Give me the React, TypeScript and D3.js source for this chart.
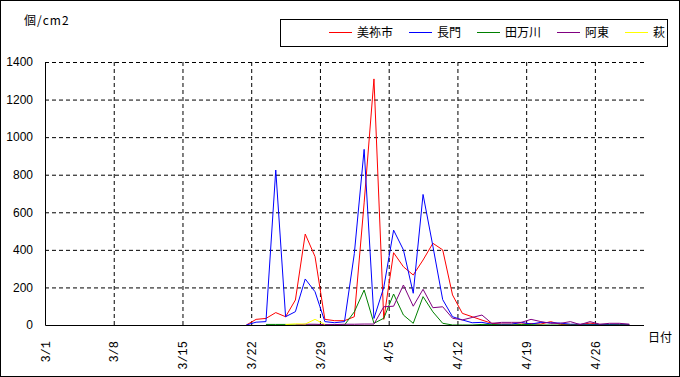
import React, { useEffect, useRef } from "react";
import * as d3 from "d3";

// categories: every day from 3/1 to 4/30
const dates = d3
  .timeDay.range(new Date(2024, 2, 1), new Date(2024, 4, 1))
  .map(d3.timeFormat("%-m/%-d"));
const tickEvery = 7;
const yTicks = [0, 200, 400, 600, 800, 1000, 1200, 1400];

// observations start on 3/21 (index 20)
const firstIndex = 20;
const names = ["美祢市", "長門", "田万川", "阿東", "萩"];
const colors = ["#ff0000", "#0000ff", "#008000", "#800080", "#ffff00"];

const mine = [
  0, 30, 35, 66, 44, 133, 484, 364, 30, 23,
  23, 44, 650, 1310, 30, 385, 310, 266, 346, 435,
  400, 160, 62, 44, 26, 9, 5, 5, 5, 8,
  5, 18, 3, 3, 3, 10, 3, 3, 3, 3,
];
const nagato = [
  0, 15, 18, 825, 44, 71, 245, 177, 18, 12,
  18, 380, 935, 35, 200, 505, 400, 169, 695, 420,
  135, 44, 27, 12, 14, 4, 4, 4, 14, 5,
  14, 12, 10, 4, 4, 3, 3, 3, 4, 3,
];
const tamagawa = [
  null, null, 3, 3, 3, 0, 0, 0, 0, 0,
  0, 70, 186, 9, 36, 165, 53, 9, 151, 70,
  9, 0, 0, 0, 3, 3, 0, 0, 3, 2,
  0, 0, 0, 0, 0, 0, 0, 0, 0, 0,
];
const ato = [
  null, null, null, null, null, 0, 4, 4, 2, 2,
  4, 4, 5, 5, 97, 100, 213, 100, 190, 92,
  97, 36, 27, 40, 53, 9, 14, 14, 14, 30,
  18, 9, 9, 18, 2, 18, 4, 9, 9, 4,
];
const hagi = [
  null, null, null, null, 3, 6, 5, 30, 3, null,
  null, null, null, null, null, null, null, null, null, null,
  null, null, null, null, null, null, null, null, null, null,
  null, null, null, null, null, null, null, null, null, null,
];
const seriesValues = [mine, nagato, tamagawa, ato, hagi];

export default function App() {
  const ref = useRef<SVGSVGElement>(null);

  useEffect(() => {
    document.body.style.margin = "0";
    const svg = d3.select(ref.current);
    svg.selectAll("*").remove();

    const width = 680;
    const height = 377;
    const left = 45;
    const right = 644;
    const top = 62;
    const bottom = 325;
    const sans = "'Liberation Sans', Arial, sans-serif";
    const cjk = "'Noto Sans CJK JP', sans-serif";

    svg
      .append("rect")
      .attr("x", 0.5)
      .attr("y", 0.5)
      .attr("width", width - 1)
      .attr("height", height - 1)
      .attr("fill", "#fff")
      .attr("stroke", "#000");

    const x = d3
      .scaleBand<number>()
      .domain(dates.map((_, i) => i))
      .range([left, right])
      .padding(0);
    const xEdge = d3.scaleLinear().domain([0, dates.length]).range([left, right]);
    const y = d3.scaleLinear().domain([0, 1400]).range([bottom, top]);

    // y axis + horizontal grid
    const yAxis = svg
      .append("g")
      .attr("transform", `translate(${left},0)`)
      .call(
        d3
          .axisLeft(y)
          .tickValues(yTicks)
          .tickFormat(d3.format("d"))
          .tickSize(-(right - left))
          .tickPadding(12)
      );
    yAxis.select(".domain").remove();
    yAxis
      .selectAll(".tick line")
      .attr("stroke", "#000")
      .attr("stroke-dasharray", "4,3")
      .attr("opacity", (d: any) => (d === 0 ? 0 : 1));
    yAxis
      .selectAll(".tick text")
      .attr("font-family", sans)
      .attr("font-size", 12)
      .attr("fill", "#000");

    // x axis + vertical grid
    const xTicks = dates.map((_, i) => i).filter((i) => i % tickEvery === 0);
    const xAxis = svg
      .append("g")
      .attr("transform", `translate(0,${bottom})`)
      .call(
        d3
          .axisBottom(xEdge)
          .tickValues(xTicks)
          .tickSize(-(bottom - top))
          .tickFormat((i: any) => dates[i])
      );
    xAxis.select(".domain").remove();
    xAxis
      .selectAll(".tick line")
      .attr("stroke", "#000")
      .attr("stroke-dasharray", "4,3")
      .attr("opacity", (d: any) => (d === 0 ? 0 : 1));
    xAxis
      .selectAll(".tick text")
      .attr("x", 0)
      .attr("y", 0)
      .attr("dy", "0.35em")
      .attr("transform", "translate(0,16) rotate(-90)")
      .attr("text-anchor", "end")
      .attr("font-family", "'Liberation Mono', monospace")
      .attr("font-size", 12)
      .attr("fill", "#000");

    // series
    const line = d3
      .line<number | null>()
      .defined((d) => d !== null)
      .x((_, i) => (x(i + firstIndex) as number) + x.bandwidth() / 2)
      .y((d) => y(d as number));

    seriesValues.forEach((vals, k) => {
      svg
        .append("path")
        .datum(vals)
        .attr("fill", "none")
        .attr("stroke", colors[k])
        .attr("stroke-width", 1)
        .attr("d", line as any);
    });

    // axis lines
    svg
      .append("path")
      .attr("d", `M${left + 0.5},${top}V${bottom + 0.5}H${right}`)
      .attr("fill", "none")
      .attr("stroke", "#000");

    // unit labels
    svg
      .append("text")
      .attr("x", 24)
      .attr("y", 25)
      .attr("font-family", cjk)
      .attr("font-size", 12)
      .attr("letter-spacing", 1)
      .text("個/cm2");
    svg
      .append("text")
      .attr("x", 648)
      .attr("y", 342)
      .attr("font-family", cjk)
      .attr("font-size", 12)
      .text("日付");

    // legend
    svg
      .append("rect")
      .attr("x", 280.5)
      .attr("y", 19.5)
      .attr("width", 387)
      .attr("height", 27)
      .attr("fill", "#fff")
      .attr("stroke", "#000");
    let lx = 329;
    names.forEach((name, k) => {
      svg
        .append("line")
        .attr("x1", lx)
        .attr("x2", lx + 23)
        .attr("y1", 32.5)
        .attr("y2", 32.5)
        .attr("stroke", colors[k]);
      svg
        .append("text")
        .attr("x", lx + 28)
        .attr("y", 32.5)
        .attr("dy", "0.36em")
        .attr("font-family", cjk)
        .attr("font-size", 12)
        .text(name);
      lx += 28 + name.length * 12 + 16;
    });
  }, []);

  return <svg ref={ref} width={680} height={377} style={{ display: "block" }} />;
}
